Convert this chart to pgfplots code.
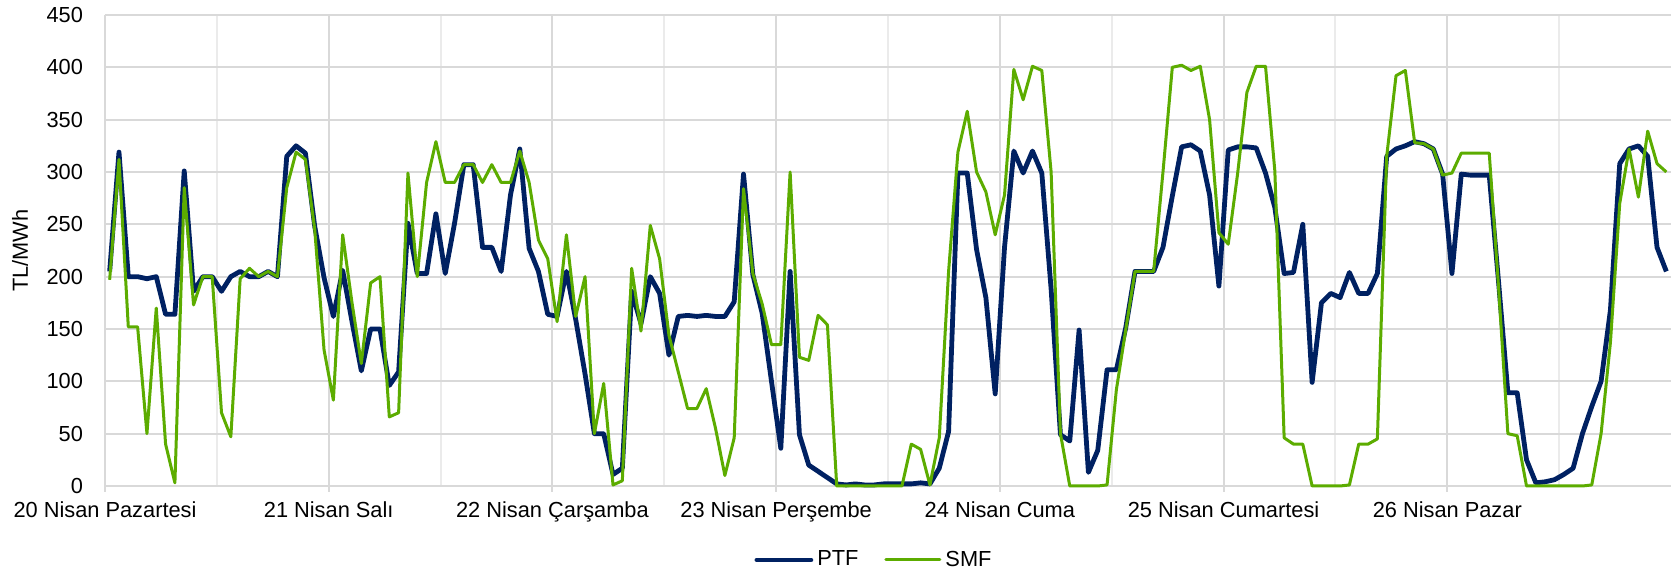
\documentclass[border=0pt]{standalone}
\usepackage{pgfplots}
\pgfplotsset{compat=1.18}
\usepackage{pgfplotstable}
\usepackage{fontspec}
\setmainfont{Liberation Sans}

\definecolor{ptfblue}{RGB}{0,33,98}
\definecolor{smfgreen}{RGB}{92,172,0}
\definecolor{gridmaj}{RGB}{217,217,217}
\definecolor{gridmin}{RGB}{235,235,235}

% hourly prices, 20-26 Nisan (h = hour index from 20 Nisan 00:00)
\pgfplotstableread{
h ptf smf
0 205 197
1 319 312
2 200 152
3 200 152
4 198 50
5 200 170
6 164 40
7 164 3
8 301 285
9 186 173
10 200 200
11 200 200
12 186 70
13 200 47
14 205 198
15 200 208
16 200 200
17 205 205
18 200 200
19 315 285
20 325 319
21 318 312
22 248 245
23 199 130
24 162 82
25 206 240
26 157 175
27 110 117
28 150 194
29 150 200
30 96 66
31 109 70
32 251 299
33 203 200
34 203 290
35 260 329
36 203 290
37 251 290
38 307 307
39 307 307
40 228 290
41 228 307
42 205 290
43 278 290
44 322 320
45 227 290
46 205 235
47 164 217
48 162 157
49 205 240
50 159 162
51 107 200
52 50 50
53 50 98
54 11 1
55 17 5
56 186 208
57 155 148
58 200 249
59 184 217
60 125 144
61 162 109
62 163 74
63 162 74
64 163 93
65 162 55
66 162 10
67 176 46
68 298 284
69 202 203
70 165 174
71 100 135
72 36 135
73 205 300
74 49 123
75 20 120
76 14 163
77 8 154
78 2 0
79 1 0
80 2 0
81 1 0
82 1 0
83 2 0
84 2 0
85 2 0
86 2 40
87 3 35
88 2 1
89 17 46
90 52 205
91 299 319
92 299 358
93 226 300
94 180 281
95 88 240
96 228 278
97 320 398
98 299 369
99 320 401
100 299 397
101 188 300
102 49 50
103 43 0
104 149 0
105 13 0
106 34 0
107 111 1
108 111 92
109 151 149
110 205 205
111 205 205
112 205 205
113 228 300
114 277 400
115 324 402
116 326 397
117 320 401
118 278 350
119 191 242
120 321 231
121 324 298
122 324 376
123 323 401
124 299 401
125 266 301
126 203 46
127 204 40
128 250 40
129 99 0
130 175 0
131 184 0
132 180 0
133 204 1
134 184 40
135 184 40
136 203 45
137 315 315
138 322 392
139 325 397
140 329 328
141 327 327
142 322 322
143 298 297
144 203 299
145 298 318
146 297 318
147 297 318
148 297 318
149 195 190
150 89 50
151 89 48
152 25 0
153 3 0
154 4 0
155 6 0
156 11 0
157 17 0
158 50 0
159 76 1
160 100 50
161 168 137
162 308 270
163 322 322
164 325 276
165 315 339
166 228 308
167 205 300
}\prices

\begin{document}
\begin{tikzpicture}
\useasboundingbox (-52.5pt,-45pt) rectangle (783pt,243pt);
\begin{axis}[
    at={(0,0)}, anchor=south west,
    scale only axis,
    width=783pt, height=235.5pt,
    xmin=0, xmax=168,
    ymin=0, ymax=450,
    ytick={0,50,...,450},
    xtick={0,24,...,144},
    xticklabels={20 Nisan Pazartesi, 21 Nisan Salı, 22 Nisan Çarşamba, 23 Nisan Perşembe, 24 Nisan Cuma, 25 Nisan Cumartesi, 26 Nisan Pazar},
    minor xtick={12,36,...,156},
    axis line style={draw=none},
    xmajorgrids, xminorgrids, ymajorgrids,
    major grid style={gridmaj, line width=1pt},
    minor grid style={gridmin, line width=1pt},
    xtick pos=bottom, ytick pos=left,
    xtick align=outside,
    major x tick style={gridmaj, line width=1pt},
    major tick length=3pt,
    minor tick length=0pt,
    ytick style={draw=none},
    /pgf/number format/assume math mode=true,
    tick label style={font=\fontsize{10.9}{13}\selectfont, text=black},
    xticklabel style={yshift=-1.5pt},
    yticklabel style={xshift=-7.5pt},
    ylabel={TL/MWh},
    every axis y label/.style={at={(axis description cs:0,0.5)}, xshift=-42.5pt,
        rotate=90, anchor=center, font=\fontsize{10.9}{13}\selectfont},
    legend style={at={(0.4917,-0.157)}, anchor=center, draw=none,
        font=\fontsize{10.9}{13}\selectfont, legend columns=2,
        inner sep=0pt,
        /tikz/every even column/.append style={column sep=11pt}},
    legend image code/.code={\draw[#1, line cap=round] (0pt,0pt) -- (27pt,0pt);},
    clip=false,
]
\addplot[ptfblue, line width=2.4pt, line join=round] table[x expr=\thisrow{h}+0.5, y=ptf] {\prices};
\addlegendentry{PTF}
\addplot[smfgreen, line width=1.5pt, line join=round] table[x expr=\thisrow{h}+0.5, y=smf] {\prices};
\addlegendentry{SMF}
\end{axis}
\end{tikzpicture}
\end{document}
